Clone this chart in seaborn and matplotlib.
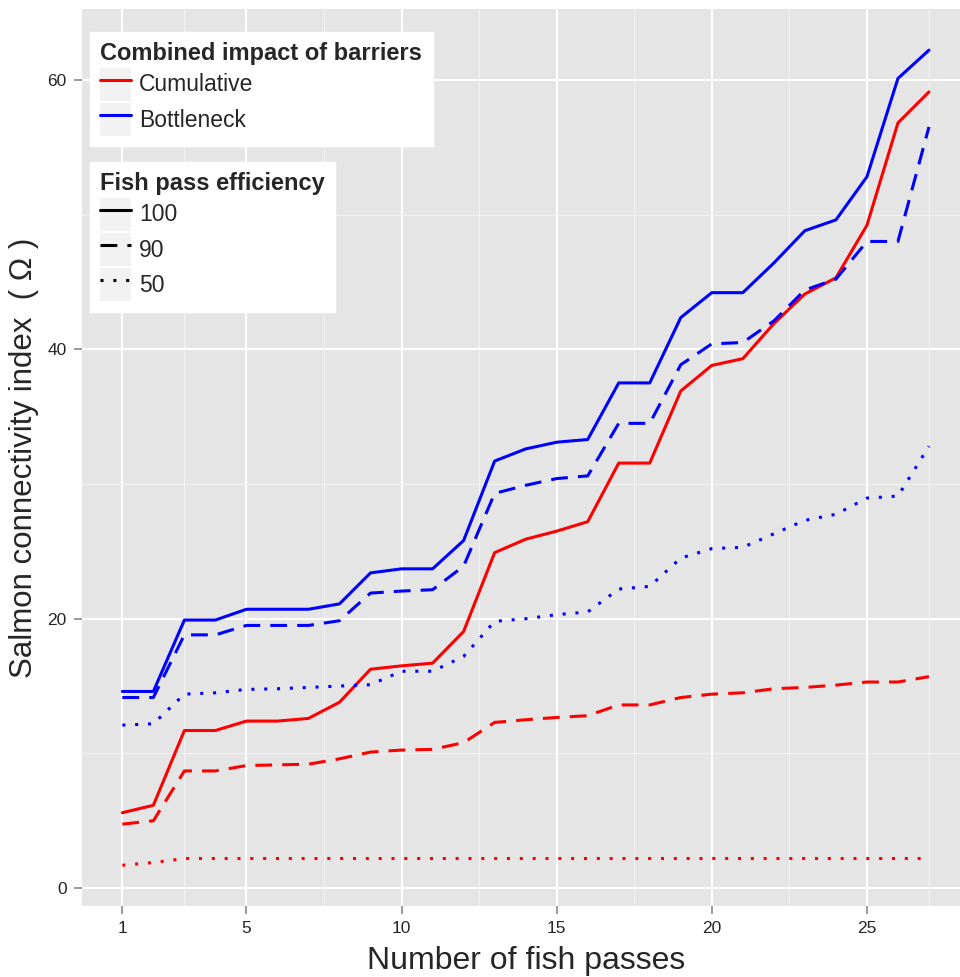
# Salmon connectivity index vs number of fish passes (ggplot-style figure, redone in seaborn)
import matplotlib
matplotlib.use("Agg")
import matplotlib.pyplot as plt
from matplotlib.lines import Line2D
from matplotlib.patches import Rectangle
from matplotlib.legend_handler import HandlerLine2D
import pandas as pd
import seaborn as sns

# Data
passes = list(range(1, 28))
cumulative_100 = [5.6, 6.15, 11.7, 11.7, 12.4, 12.4, 12.6, 13.8, 16.25, 16.5, 16.7, 19.05, 24.9, 25.9,
                  26.5, 27.2, 31.55, 31.55, 36.9, 38.8, 39.3, 41.9, 44.1, 45.3, 49.2, 56.8, 59.1]
cumulative_90 = [4.75, 5.0, 8.7, 8.7, 9.1, 9.15, 9.2, 9.6, 10.1, 10.25, 10.3, 10.8, 12.3, 12.5,
                 12.67, 12.8, 13.6, 13.6, 14.15, 14.4, 14.5, 14.8, 14.9, 15.07, 15.3, 15.3, 15.7]
cumulative_50 = [1.7, 1.9, 2.2, 2.2, 2.2, 2.2, 2.2, 2.2, 2.2, 2.2, 2.2, 2.2, 2.2, 2.2,
                 2.2, 2.2, 2.2, 2.2, 2.2, 2.2, 2.2, 2.2, 2.2, 2.2, 2.2, 2.2, 2.2]
bottleneck_100 = [14.6, 14.6, 19.9, 19.9, 20.7, 20.7, 20.7, 21.1, 23.4, 23.7, 23.7, 25.8, 31.7, 32.6,
                  33.1, 33.3, 37.5, 37.5, 42.35, 44.2, 44.2, 46.4, 48.8, 49.6, 52.8, 60.1, 62.2]
bottleneck_90 = [14.15, 14.15, 18.8, 18.8, 19.5, 19.5, 19.5, 19.85, 21.9, 22.05, 22.15, 23.9, 29.3, 29.9,
                 30.4, 30.6, 34.5, 34.5, 38.85, 40.4, 40.5, 42.1, 44.4, 45.2, 48.0, 48.0, 56.5]
bottleneck_50 = [12.1, 12.2, 14.4, 14.5, 14.75, 14.8, 14.9, 15.0, 15.1, 16.1, 16.1, 17.2, 19.8, 20.0,
                 20.3, 20.5, 22.2, 22.4, 24.5, 25.2, 25.3, 26.3, 27.3, 27.75, 28.95, 29.1, 32.8]

impacts = ["Cumulative", "Bottleneck"]
efficiencies = ["100", "90", "50"]
series = {("Cumulative", "100"): cumulative_100, ("Cumulative", "90"): cumulative_90,
          ("Cumulative", "50"): cumulative_50, ("Bottleneck", "100"): bottleneck_100,
          ("Bottleneck", "90"): bottleneck_90, ("Bottleneck", "50"): bottleneck_50}

rows = []
for (imp, eff), vals in series.items():
  for x, v in zip(passes, vals):
    rows.append({"passes": x, "omega": v, "impact": imp, "efficiency": eff})
df = pd.DataFrame(rows)

# Style
sns.set_theme(style="darkgrid")
plt.rcParams["font.family"] = ["Liberation Sans", "DejaVu Sans"]

colors = {"Cumulative": "#FF0000", "Bottleneck": "#0000FF"}
dash_map = {"100": "", "90": (5.5, 3.3), "50": (1, 3.2)}
lw = 2.2

fig = plt.figure(figsize=(9.6, 9.77), dpi=100)
ax = fig.add_axes([82 / 960, 1 - 906 / 977, 887.3 / 960, 896.6 / 977])
ax.set_facecolor("#E5E5E5")

sns.lineplot(data=df, x="passes", y="omega", hue="impact", style="efficiency",
             hue_order=impacts, style_order=efficiencies, palette=colors,
             dashes=dash_map, linewidth=lw, legend=False, ax=ax)

# ggplot-like scale expansion (5% each side)
xr = max(passes) - min(passes)
ax.set_xlim(min(passes) - 0.05 * xr, max(passes) + 0.05 * xr)
ymin, ymax = df["omega"].min(), df["omega"].max()
ax.set_ylim(ymin - 0.05 * (ymax - ymin), ymax + 0.05 * (ymax - ymin))

ax.set_xticks([1, 5, 10, 15, 20, 25])
ax.set_xticks([3, 7.5, 12.5, 17.5, 22.5, 27], minor=True)
ax.set_yticks([0, 20, 40, 60])
ax.set_yticks([10, 30, 50], minor=True)
ax.grid(which="major", color="white", linewidth=1.5)
ax.grid(which="minor", color="#F2F2F2", linewidth=0.8)
ax.set_axisbelow(True)
for s in ax.spines.values():
  s.set_visible(False)
ax.tick_params(which="major", length=6, width=1.1, color="#7F7F7F", pad=5,
               labelsize=12.5, labelcolor="#262626", bottom=True, left=True)
ax.tick_params(which="minor", length=0)

ax.set_xlabel("Number of fish passes", fontsize=23, labelpad=7)
ax.set_ylabel("Salmon connectivity index  ( Ω )", fontsize=22.5, labelpad=6)


class KeyBox(HandlerLine2D):
  # grey key background like ggplot
  def create_artists(self, legend, orig_handle, xdescent, ydescent, width, height, fontsize, trans):
    box = Rectangle((-xdescent, -ydescent), width, height, facecolor="#F2F2F2",
                    edgecolor="none", transform=trans)
    return [box] + super().create_artists(legend, orig_handle, xdescent, ydescent,
                                          width, height, fontsize, trans)


leg_kw = dict(loc="upper left", bbox_transform=fig.transFigure, borderaxespad=0, frameon=True,
              fancybox=False, edgecolor="white", facecolor="white", framealpha=1, fontsize=16.5,
              title_fontproperties={"weight": "bold", "size": 17}, alignment="left",
              handlelength=1.35, handleheight=1.84, handletextpad=0.35, labelspacing=0.1,
              borderpad=0.45, handler_map={Line2D: KeyBox()})

h1 = [Line2D([], [], color=colors[k], linewidth=lw) for k in impacts]
leg1 = ax.legend(h1, impacts, title="Combined impact of barriers",
                 bbox_to_anchor=(90 / 960, 1 - 32 / 977), **leg_kw)
ax.add_artist(leg1)

h2 = []
for e in efficiencies:
  ln = Line2D([], [], color="black", linewidth=lw)
  ln.set_dashes(dash_map[e])
  h2.append(ln)
ax.legend(h2, efficiencies, title="Fish pass efficiency",
          bbox_to_anchor=(90 / 960, 1 - 162 / 977), **leg_kw)

fig.savefig("out.png", dpi=100)
